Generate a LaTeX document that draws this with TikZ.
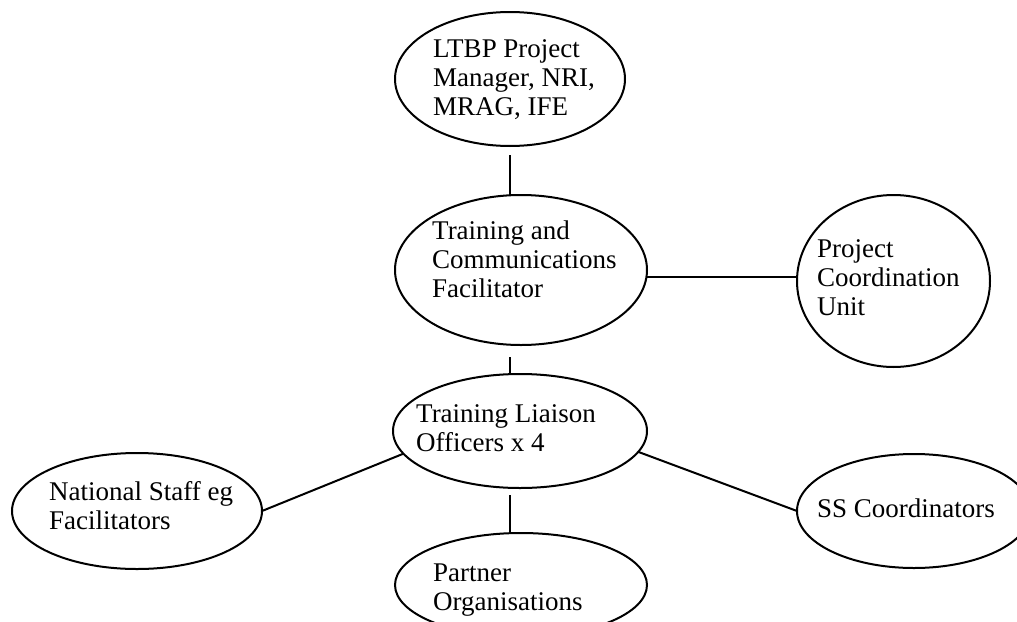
\documentclass[tikz,border=0pt]{standalone}
\usepackage{fontspec}
\setmainfont{Liberation Serif}
\usetikzlibrary{shapes.geometric}

% one ellipse per unit, its wording set separately as a left-aligned block
\tikzset{
  unit/.style={ellipse, draw, line width=2pt, inner sep=0pt, outer sep=0pt},
  unit text/.style={anchor=base west, inner sep=0pt, font=\fontsize{27}{29}\selectfont},
  link/.style={line width=2pt},
}
\newcommand\stacklines[1]{\begin{tabular}[t]{@{}l@{}}#1\end{tabular}}

\begin{document}
\begin{tikzpicture}[x=1pt,y=-1pt]
\path[use as bounding box, fill=white] (0,0) rectangle (1017,621);
\clip (0,0) rectangle (1017,621);

% units
\node[unit, minimum width=230pt, minimum height=134pt] (mgr) at (510,79) {};
\node[unit, minimum width=252pt, minimum height=150pt] (tcf) at (521,270) {};
\node[unit, minimum width=193pt, minimum height=172pt] (pcu) at (893.5,281) {};
\node[unit, minimum width=254pt, minimum height=114pt] (tlo) at (520,431) {};
\node[unit, minimum width=250pt, minimum height=116pt] (nsf) at (137,511) {};
\node[unit, minimum width=252pt, minimum height=104pt] (pto) at (521,585) {};
\node[unit, minimum width=234pt, minimum height=114pt] (ssc) at (914,511) {};

% wording
\node[unit text] (mgr-t) at (433,57) {\stacklines{LTBP Project\\Manager, NRI,\\MRAG, IFE}};
\node[unit text] (tcf-t) at (432,239) {\stacklines{Training and\\Communications\\Facilitator}};
\node[unit text] (pcu-t) at (817,257) {\stacklines{Project\\Coordination\\Unit}};
\node[unit text] (tlo-t) at (416,422) {\stacklines{Training Liaison\\Officers x 4}};
\node[unit text] (nsf-t) at (49,500) {\stacklines{National Staff eg\\Facilitators}};
\node[unit text] (pto-t) at (433,581) {\stacklines{Partner\\Organisations}};
\node[unit text] (ssc-t) at (817,517) {SS Coordinators};

% links
\draw[link, shorten <=9pt] (mgr.south) -- (mgr.south |- tcf.north);
\draw[link, shorten <=12pt] (tcf.south -| mgr.south) -- (tlo.north -| mgr.south);
\draw[link, shorten <=7pt] (tlo.south -| mgr.south) -- (pto.north -| mgr.south);
\draw[link] (tcf.-3) -- (tcf.-3 -| pcu.west);
\draw[link] (nsf.east) -- (tlo.191);
\draw[link] (tlo.-10) -- (ssc.west);
\end{tikzpicture}
\end{document}
